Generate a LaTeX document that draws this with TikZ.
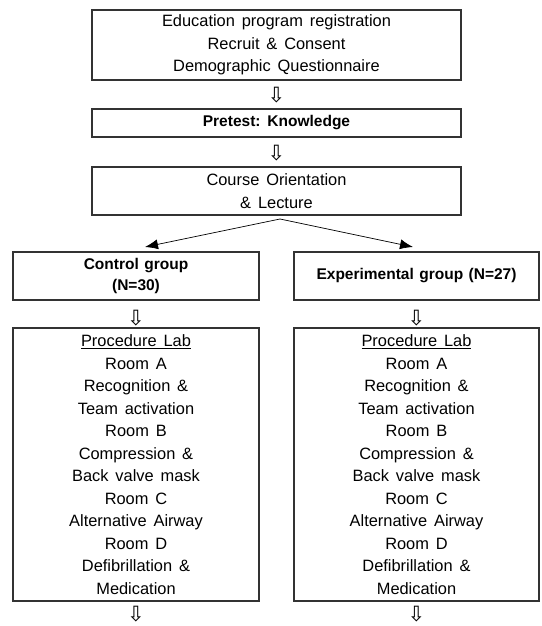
\documentclass[tikz,border=0pt]{standalone}
\usepackage{fontspec}
\setmainfont{Liberation Sans}
\newfontfamily\arrowfont{DejaVu Sans}
\usetikzlibrary{arrows.meta}
\newcommand\boxfnt{\fontsize{16.4}{22.5}\selectfont\spaceskip 0.42em plus 0.1em\relax}
\newcommand\boldfnt{\fontsize{15.5}{21}\selectfont\bfseries\spaceskip 0.35em\relax}
\begin{document}
\begin{tikzpicture}[x=1pt,y=-1pt,
  box/.style={draw=black!80, line width=1.1pt, align=center, inner sep=0pt, font=\boxfnt},
  boldbox/.style={box, font=\boldfnt},
  darr/.style={font=\arrowfont\fontsize{21}{21}\selectfont, inner sep=0pt},
  split/.style={line width=0.7pt, -{Latex[length=13pt,width=10pt]}}]
\useasboundingbox (0,0) rectangle (541,626);
\node[box, minimum width=369pt, minimum height=70pt] (reg) at (276.5,45)
  {Education program registration\\Recruit \& Consent\\Demographic Questionnaire};
\node[darr] (a1) at (276.5,95) {⇩};
\node[boldbox, minimum width=369pt, minimum height=28pt] (pre) at (276.5,123) {Pretest: Knowledge};
\node[darr] (a2) at (276.5,153) {⇩};
\node[box, minimum width=369pt, minimum height=48pt] (course) at (276.5,191) {Course Orientation\\\& Lecture};
\coordinate (apex) at (280,219);
\coordinate (tipL) at (145,247);
\coordinate (tipR) at (413,247);
\draw[split] (apex) -- (tipL);
\draw[split] (apex) -- (tipR);
\node[boldbox, minimum width=246pt, minimum height=48pt] (ctl) at (136,276) {Control group\\(N=30)};
\node[boldbox, minimum width=245pt, minimum height=48pt] (exp) at (416.5,276) {Experimental group (N=27)};
\node[darr] (a3) at (136,318) {⇩};
\node[darr] (a4) at (416.5,318) {⇩};
\node[box, minimum width=246pt, minimum height=273pt] (labL) at (136,464.5)
  {\underline{Procedure Lab}\\Room A\\Recognition \&\\Team activation\\Room B\\Compression \&\\Back valve mask\\Room C\\Alternative Airway\\Room D\\Defibrillation \&\\Medication};
\node[box, minimum width=245pt, minimum height=273pt] (labR) at (416.5,464.5)
  {\underline{Procedure Lab}\\Room A\\Recognition \&\\Team activation\\Room B\\Compression \&\\Back valve mask\\Room C\\Alternative Airway\\Room D\\Defibrillation \&\\Medication};
\node[darr] (a5) at (136,614.5) {⇩};
\node[darr] (a6) at (416.5,614.5) {⇩};
\end{tikzpicture}
\end{document}
